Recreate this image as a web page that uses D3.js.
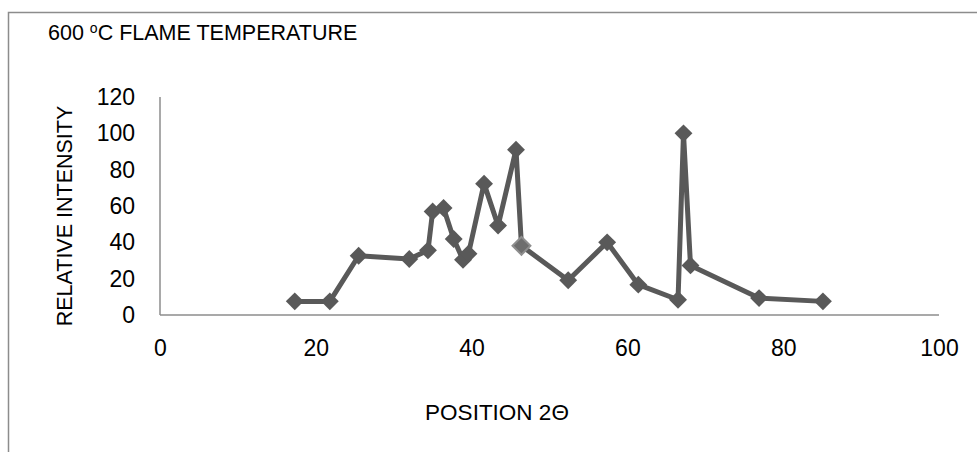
<!DOCTYPE html>
<html>
<head>
<meta charset="utf-8">
<script src="https://cdn.jsdelivr.net/npm/d3@7"></script>
<style>
  html, body { margin: 0; padding: 0; background: #fff; }
  svg { display: block; }
  text { font-family: "Liberation Sans", Arial, sans-serif; fill: #000; }
</style>
</head>
<body>
<svg id="chart" width="977" height="452"></svg>
<script>
// ---- data ----
const positions = [17.3, 21.8, 25.5, 32.0, 34.4, 35.0, 36.4, 37.7, 38.9, 39.6, 41.6, 43.4, 45.7, 46.4, 52.4, 57.4, 61.4, 66.5, 67.2, 68.1, 76.9, 85.1];
const intensities = [7.5, 7.5, 32.6, 30.8, 35.6, 57.0, 58.9, 41.8, 30.4, 33.7, 72.3, 49.2, 91.0, 38.1, 19.1, 40.0, 16.7, 8.4, 100, 27.3, 9.3, 7.5];
const xTicks = [0, 20, 40, 60, 80, 100];
const yTicks = [0, 20, 40, 60, 80, 100, 120];
const titleText = "600 ";
const titleSup = "o";
const titleRest = "C FLAME TEMPERATURE";
const xLabel = "POSITION 2Θ";
const yLabel = "RELATIVE INTENSITY";
const highlightIndex = 13;

const data = positions.map((p, i) => ({ x: p, y: intensities[i] }));

const svg = d3.select("#chart");
const FONT = '"Liberation Sans", Arial, sans-serif';

// chart area border (partially visible)
svg.append("path")
  .attr("d", "M8.5,452 L8.5,12.5 L977,12.5")
  .attr("fill", "none")
  .attr("stroke", "#8c8c8c")
  .attr("stroke-width", 1.5);

const x = d3.scaleLinear().domain([0, 100]).range([160, 939]);
const y = d3.scaleLinear().domain([0, 120]).range([315, 97]);

// title
const t = svg.append("text").attr("x", 48).attr("y", 40).attr("font-size", 21.5);
t.append("tspan").text(titleText);
t.append("tspan").attr("font-size", 14).attr("dy", -7).text(titleSup);
t.append("tspan").attr("dy", 7).text(titleRest);

// axes
const yAxis = d3.axisLeft(y).tickValues(yTicks).tickSize(0).tickPadding(25);
const gy = svg.append("g").attr("transform", `translate(${x(0)},0)`).call(yAxis);
gy.select(".domain").attr("stroke", "#8c8c8c").attr("stroke-width", 1.5).attr("d", `M0,${y(120)}V${y(0)}`);
gy.selectAll("text").attr("font-size", 23).attr("font-family", FONT).attr("fill", "#000");

const xAxis = d3.axisBottom(x).tickValues(xTicks).tickSize(0).tickPadding(25);
const gx = svg.append("g").attr("transform", `translate(0,${y(0)})`).call(xAxis);
gx.select(".domain").attr("stroke", "#8c8c8c").attr("stroke-width", 1.5).attr("d", `M${x(0)},0H${x(100)}`);
gx.selectAll("text").attr("font-size", 23).attr("font-family", FONT).attr("fill", "#000");

// axis titles
svg.append("text")
  .attr("x", 497).attr("y", 420)
  .attr("text-anchor", "middle")
  .attr("font-size", 22.5)
  .text(xLabel);

svg.append("text")
  .attr("transform", "translate(72,216) rotate(-90)")
  .attr("text-anchor", "middle")
  .attr("font-size", 21.5)
  .text(yLabel);

// line
const line = d3.line().x(d => x(d.x)).y(d => y(d.y));
svg.append("path")
  .datum(data)
  .attr("d", line)
  .attr("fill", "none")
  .attr("stroke", "#595959")
  .attr("stroke-width", 5)
  .attr("stroke-linejoin", "round");

// markers
const sym = d3.symbol().type(d3.symbolSquare).size(160);
svg.append("g").selectAll("path")
  .data(data)
  .join("path")
  .attr("d", sym)
  .attr("transform", d => `translate(${x(d.x)},${y(d.y)}) rotate(45)`)
  .attr("fill", (d, i) => i === highlightIndex ? "#6e6e6e" : "#595959")
  .attr("stroke", (d, i) => i === highlightIndex ? "#8e8e8e" : "none")
  .attr("stroke-width", 2);
</script>
</body>
</html>
